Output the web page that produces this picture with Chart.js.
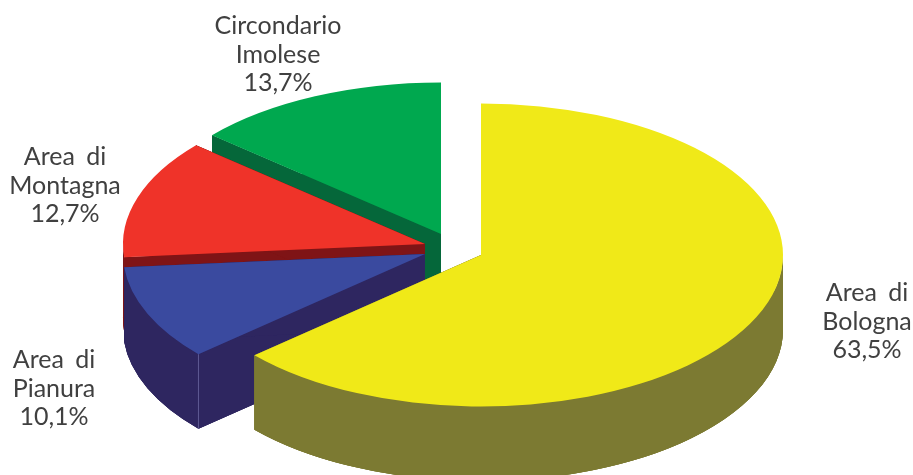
<!DOCTYPE html>
<html>
<head>
<meta charset="utf-8">
<style>html,body{margin:0;padding:0;background:#fff}canvas{display:block}</style>
<script src="https://cdn.jsdelivr.net/npm/chart.js@4/dist/chart.umd.min.js"></script>
</head>
<body>
<canvas id="c" width="913" height="475"></canvas>
<script>
const categories = ['Area di\nBologna', 'Area di\nPianura', 'Area di\nMontagna', 'Circondario\nImolese'];
const shares = [63.5, 10.1, 12.7, 13.7];
const topColors = ['#F0E918', '#3A4A9F', '#EF3329', '#00A84F'];
const wallColors = ['#7C7A32', '#2E2660', '#7F1416', '#05673A'];

// Projection of the pie: tilted ellipse, wall depth, and the exploded apex of every slice
const RX = 302, RY = 151.5, DEPTH = 74.5;
const apexes = [[481, 255], [425, 254], [425, 244], [441, 234]];
const paintOrder = [3, 2, 1, 0];
const labelAnchors = [[867, 301], [54, 368], [65, 165], [278, 34]];
const LINE_STEP = 28.5;
const HIGHLIGHT_SLICE = 1, HIGHLIGHT_COLOR = '#5F5A94';

const pie3d = {
  id: 'pie3d',
  beforeDatasetsDraw(chart) {
    const ctx = chart.ctx;
    const arcs = chart.getDatasetMeta(0).data;
    const paint = (arc, i, dy, color) => {
      const saved = arc.options;
      arc.options = Object.assign({}, saved, {backgroundColor: color, borderColor: color, borderWidth: 0});
      ctx.save();
      ctx.translate(apexes[i][0], apexes[i][1] + dy);
      ctx.scale(RX / arc.outerRadius, RY / arc.outerRadius);
      ctx.translate(-arc.x, -arc.y);
      arc.draw(ctx);
      ctx.restore();
      arc.options = saved;
    };
    const band = (color, build) => {
      ctx.beginPath();
      build();
      ctx.closePath();
      ctx.fillStyle = color;
      ctx.fill();
      ctx.fill();
    };
    paintOrder.forEach(i => {
      const arc = arcs[i];
      const [ax, ay] = apexes[i];
      const c = wallColors[i];
      const a0 = arc.startAngle, a1 = arc.endAngle;
      paint(arc, i, DEPTH, c);
      // the two radial faces, then the front part of the curved face, from the slice's own angles
      [a0, a1].forEach(a => band(c, () => {
        const px = ax + RX * Math.cos(a), py = ay + RY * Math.sin(a);
        ctx.moveTo(ax, ay);
        ctx.lineTo(px, py);
        ctx.lineTo(px, py + DEPTH);
        ctx.lineTo(ax, ay + DEPTH);
      }));
      const lo = Math.max(a0, 0), hi = Math.min(a1, Math.PI);
      if (hi > lo) band(c, () => {
        ctx.ellipse(ax, ay, RX, RY, 0, lo, hi);
        ctx.ellipse(ax, ay + DEPTH, RX, RY, 0, hi, lo, true);
      });
      if (i === HIGHLIGHT_SLICE) {
        const px = ax + RX * Math.cos(a0), py = ay + RY * Math.sin(a0);
        ctx.strokeStyle = HIGHLIGHT_COLOR;
        ctx.lineWidth = 1;
        ctx.beginPath();
        ctx.moveTo(px, py);
        ctx.lineTo(px, py + DEPTH);
        ctx.stroke();
      }
      paint(arc, i, 0, topColors[i]);
    });
    return false;
  },
  afterDraw(chart) {
    const ctx = chart.ctx;
    ctx.save();
    ctx.font = '400 25px Lato';
    ctx.fillStyle = '#404040';
    ctx.textAlign = 'center';
    ctx.textBaseline = 'alphabetic';
    ctx.wordSpacing = '5px';
    categories.forEach((cat, i) => {
      const lines = cat.split('\n').concat(shares[i].toFixed(1).replace('.', ',') + '%');
      lines.forEach((t, k) => ctx.fillText(t, labelAnchors[i][0], labelAnchors[i][1] + k * LINE_STEP));
    });
    ctx.restore();
  }
};

new Chart(document.getElementById('c'), {
  type: 'pie',
  data: {
    labels: categories,
    datasets: [{data: shares, backgroundColor: topColors, borderWidth: 0}]
  },
  options: {
    responsive: false,
    animation: false,
    layout: {padding: 0},
    plugins: {legend: {display: false}, tooltip: {enabled: false}}
  },
  plugins: [pie3d]
});
</script>
</body>
</html>
